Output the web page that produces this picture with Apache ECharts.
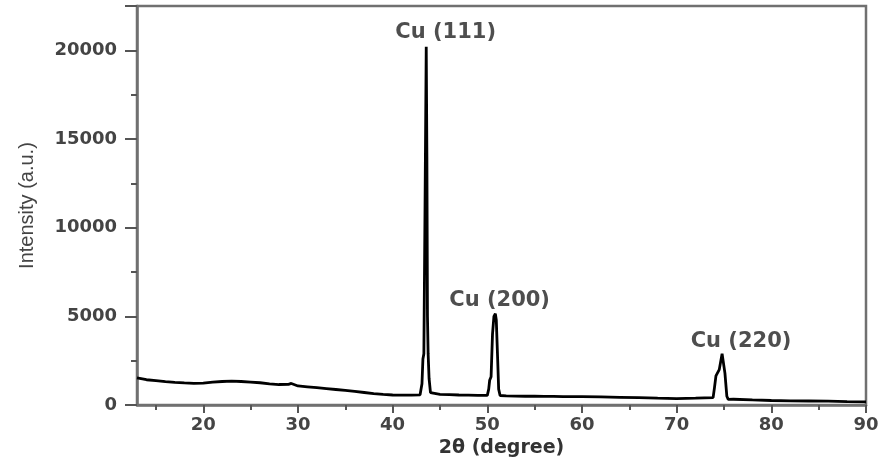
<!DOCTYPE html>
<html>
<head>
<meta charset="utf-8">
<script src="https://cdn.jsdelivr.net/npm/echarts@6/dist/echarts.min.js"></script>
<style>html,body{margin:0;padding:0;background:#fff;}#c{width:885px;height:463px;}</style>
</head>
<body>
<div id="c"></div>
<script>
// 2θ (degree) values
var twoTheta = [
  13, 14, 15, 16, 17, 18, 19, 20, 21, 22, 23, 24, 25, 26, 27, 28, 29, 29.3, 30, 31, 32, 33, 34, 35, 36, 37, 38, 39, 40, 41, 42, 42.9,
  43.1, 43.2, 43.3, 43.42, 43.55, 43.62, 43.68, 43.75, 43.85, 44.0,
  44.2, 45, 46, 47, 48, 49, 50.0,
  50.15, 50.25, 50.4, 50.55, 50.7, 50.85, 50.95, 51.1, 51.2, 51.35,
  52, 53, 54, 55, 56, 57, 58, 59, 60, 62, 64, 66, 68, 70, 72, 73.85,
  74.0, 74.15, 74.3, 74.5, 74.8, 74.95, 75.1, 75.3, 75.45,
  76, 78, 80, 82, 84, 86, 88, 90
];
// Intensity (a.u.)
var intensity = [
  1530, 1430, 1380, 1320, 1280, 1250, 1230, 1240, 1290, 1330, 1350, 1330, 1300, 1260, 1200, 1160, 1170, 1220, 1080, 1030, 980, 930, 880, 830, 770, 710, 650, 600, 570, 560, 560, 580,
  1200, 2600, 2900, 11000, 20200, 14000, 5000, 2900, 1500, 700,
  620, 610, 590, 570, 560, 550, 550,
  900, 1400, 1600, 4000, 5000, 5150, 4800, 2500, 900, 540,
  520, 510, 500, 500, 490, 490, 480, 480, 480, 460, 440, 420, 390, 370, 390, 420,
  1000, 1650, 1700, 2000, 2900, 2950, 1800, 500, 320,
  330, 290, 260, 240, 230, 220, 200, 185
];
// Peak annotations
var peakLabels = ["Cu (111)", "Cu (200)", "Cu (220)"];
var peakLabelX = [45.6, 51.3, 76.8];
var peakLabelY = [21000, 5900, 3600];
// Axis ticks
var xMajorTicks = [20, 30, 40, 50, 60, 70, 80, 90];
var xMinorTicks = [15, 25, 35, 45, 55, 65, 75, 85];
var xMin = 13, xMax = 90;
var yMin = 0, yMax = 22500, yInterval = 5000;
var xTitle = "2θ (degree)";
var yTitle = "Intensity (a.u.)";

var lineData = twoTheta.map(function (x, i) { return [x, intensity[i]]; });
var labelData = peakLabels.map(function (t, i) { return { value: [peakLabelX[i], peakLabelY[i]], name: t }; });

var chart = echarts.init(document.getElementById('c'), null, { renderer: 'canvas' });
var axisColor = '#707070';
var tickColor = '#555555';
var tickFont = 'DejaVu Sans, Liberation Sans, Arial';
chart.setOption({
  animation: false,
  backgroundColor: '#ffffff',
  grid: { left: 137, right: 19, top: 6, bottom: 54, show: true, borderColor: axisColor, borderWidth: 2.5, backgroundColor: 'transparent' },
  xAxis: [{
    type: 'value', min: xMin, max: xMax, position: 'bottom', offset: 0,
    name: xTitle, nameLocation: 'middle', nameGap: 31,
    nameTextStyle: { fontFamily: tickFont, fontWeight: 'bold', fontSize: 19, color: '#333' },
    axisLine: { show: true, onZero: false, lineStyle: { color: axisColor, width: 2.5 } },
    axisTick: { show: true, inside: false, length: 8, customValues: xMajorTicks, lineStyle: { color: tickColor, width: 2 } },
    minorTick: { show: false },
    axisLabel: { fontFamily: tickFont, fontWeight: 'bold', fontSize: 18, color: '#444', margin: 11, customValues: xMajorTicks,
      formatter: function (v) { return String(v); } },
    splitLine: { show: false }
  }, {
    type: 'value', min: xMin, max: xMax, position: 'bottom', offset: 0,
    axisLine: { show: false },
    axisTick: { show: true, inside: false, length: 5, customValues: xMinorTicks, lineStyle: { color: tickColor, width: 2 } },
    axisLabel: { show: false, customValues: xMinorTicks },
    splitLine: { show: false }
  }],
  yAxis: {
    type: 'value', min: yMin, max: yMax, interval: yInterval,
    name: yTitle, nameLocation: 'middle', nameGap: 100, nameRotate: 90,
    nameTextStyle: { fontFamily: 'Liberation Sans, Arial', fontSize: 20, color: '#444' },
    axisLine: { show: true, onZero: false, lineStyle: { color: axisColor, width: 2.5 } },
    axisTick: { show: true, inside: false, length: 12, lineStyle: { color: tickColor, width: 2 } },
    minorTick: { show: true, splitNumber: 2, length: 6, lineStyle: { color: tickColor, width: 2 } },
    axisLabel: { fontFamily: tickFont, fontWeight: 'bold', fontSize: 18, color: '#444', margin: 20,
      formatter: function (v) { return v > 20000 ? '' : String(v); } },
    splitLine: { show: false }
  },
  series: [
    {
      type: 'line', data: lineData, showSymbol: false, symbol: 'none', smooth: false,
      lineStyle: { color: '#000', width: 2.8 }, z: 3
    },
    {
      type: 'scatter', data: labelData, symbolSize: 1,
      itemStyle: { color: 'transparent' },
      label: { show: true, position: 'inside', formatter: function (p) { return p.name; },
        fontFamily: tickFont, fontWeight: 'bold', fontSize: 21, color: '#222' },
      z: 4
    },
    { type: 'line', xAxisIndex: 1, data: [], showSymbol: false }
  ]
});
</script>
</body>
</html>
